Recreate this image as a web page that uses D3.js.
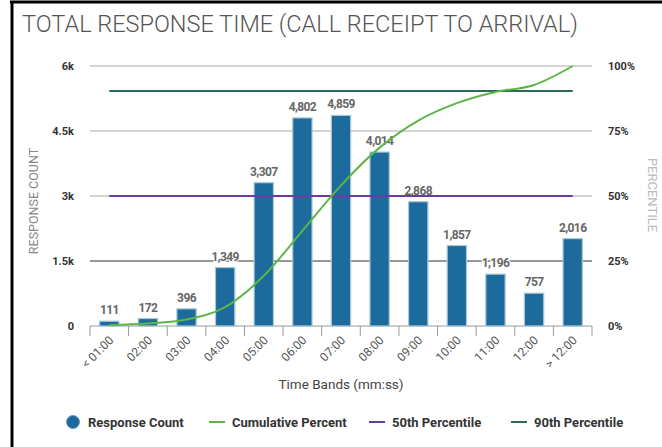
<!DOCTYPE html>
<html>
<head>
<meta charset="utf-8">
<script src="https://cdn.jsdelivr.net/npm/d3@7"></script>
<style>
html,body{margin:0;padding:0;background:#fff;}
svg{display:block;font-family:Roboto, "Noto Sans", sans-serif;}
</style>
</head>
<body>
<svg id="chart" width="662" height="447"></svg>
<script>
const categories = ["< 01:00","02:00","03:00","04:00","05:00","06:00","07:00","08:00","09:00","10:00","11:00","12:00","> 12:00"];
const responseCount = [111,172,396,1349,3307,4802,4859,4014,2868,1857,1196,757,2016];
const cumulativePercent = [0.4,1.0,2.5,7.3,19.3,36.6,54.1,68.6,79.0,85.7,90.0,92.7,100];
const p50 = 50;
const p90 = 90.4;
const leftTicks = [0,1500,3000,4500,6000];
const leftTickLabels = ["0","1.5k","3k","4.5k","6k"];
const rightTicks = [0,25,50,75,100];
const rightTickLabels = ["0%","25%","50%","75%","100%"];

const svg = d3.select("#chart");
const W = 662, H = 447;
const x = d3.scaleBand().domain(categories).range([90, 592]).paddingInner(0.5).paddingOuter(0.25);
const y = d3.scaleLinear().domain([0,6000]).range([326, 66]);
const yr = d3.scaleLinear().domain([0,100]).range([326, 66]);
const cx = d => x(d) + x.bandwidth()/2;

// border
svg.append("line").attr("x1",10).attr("x2",W).attr("y1",2).attr("y2",2).attr("stroke","#000").attr("stroke-width",3);
svg.append("line").attr("x1",12).attr("x2",12).attr("y1",1).attr("y2",H).attr("stroke","#000").attr("stroke-width",3);

// title
svg.append("text").attr("x",22).attr("y",32).attr("font-size",23.5).attr("font-weight",300).attr("fill","#555")
  .text("TOTAL RESPONSE TIME (CALL RECEIPT TO ARRIVAL)");

// gridlines
const grid = svg.append("g");
leftTicks.forEach((t,i)=>{
  grid.append("line").attr("x1",90).attr("x2",592).attr("y1",y(t)).attr("y2",y(t))
    .attr("stroke", t===1500 ? "#333" : (t===0 ? "#999" : "#aaa")).attr("stroke-width",1);
});

// left axis
const yAxis = d3.axisLeft(y).tickValues(leftTicks).tickFormat((d,i)=>leftTickLabels[i]).tickSize(0).tickPadding(16);
const ga = svg.append("g").attr("transform","translate(90,0)").call(yAxis);
ga.select(".domain").remove();
ga.selectAll("text").attr("font-size",11).attr("font-weight",700).attr("fill","#333").attr("font-family","Roboto");

const yrAxis = d3.axisRight(yr).tickValues(rightTicks).tickFormat((d,i)=>rightTickLabels[i]).tickSize(0).tickPadding(16);
const gr = svg.append("g").attr("transform","translate(592,0)").call(yrAxis);
gr.select(".domain").remove();
gr.selectAll("text").attr("font-size",11).attr("font-weight",700).attr("fill","#333").attr("font-family","Roboto");

// x axis ticks
const bounds = categories.map(c => x(c) - x.step()*x.paddingInner()/2);
bounds.push(592);
bounds.forEach(b=>{
  svg.append("line").attr("x1",b).attr("x2",b).attr("y1",326).attr("y2",336).attr("stroke","#999");
});
svg.selectAll(".xl").data(categories).enter().append("text")
  .attr("transform", d => `translate(${cx(d)+5},${341}) rotate(-45)`)
  .attr("text-anchor","end").attr("font-size",12).attr("fill","#555").text(d=>d);

// axis titles
svg.append("text").attr("transform","translate(38,201) rotate(-90)").attr("text-anchor","middle")
  .attr("font-size",12.5).attr("fill","#888").text("RESPONSE COUNT");
svg.append("text").attr("transform","translate(648,195) rotate(90)").attr("text-anchor","middle")
  .attr("font-size",13).attr("fill","#bbb").text("PERCENTILE");
svg.append("text").attr("x",341).attr("y",389).attr("text-anchor","middle").attr("font-size",13.5).attr("fill","#444")
  .text("Time Bands (mm:ss)");

// bars
svg.selectAll(".bar").data(responseCount).enter().append("rect")
  .attr("x",(d,i)=>x(categories[i])).attr("width",x.bandwidth())
  .attr("y",d=>y(d)).attr("height",d=>326-y(d))
  .attr("fill","#1c6b9c").attr("stroke","#a8c8d8").attr("stroke-width",1.2);

// bar labels
svg.selectAll(".bl").data(responseCount).enter().append("text")
  .attr("x",(d,i)=>cx(categories[i])).attr("y",d=>y(d)-7).attr("text-anchor","middle")
  .attr("font-size",12).attr("font-weight",700).attr("fill","#666").attr("letter-spacing",-0.6)
  .attr("stroke","#fff").attr("stroke-width",2).attr("paint-order","stroke")
  .text(d=>d3.format(",")(d));

// percentile lines
const x0 = cx(categories[0]), x1 = cx(categories[categories.length-1]);
svg.append("line").attr("x1",x0).attr("x2",x1).attr("y1",yr(p50)).attr("y2",yr(p50)).attr("stroke","#6f3aa0").attr("stroke-width",2);
svg.append("line").attr("x1",x0).attr("x2",x1).attr("y1",yr(p90)).attr("y2",yr(p90)).attr("stroke","#2c6b55").attr("stroke-width",2);

// cumulative line
const line = d3.line().x((d,i)=>cx(categories[i])).y(d=>yr(d)).curve(d3.curveMonotoneX);
svg.append("path").datum(cumulativePercent).attr("d",line).attr("fill","none").attr("stroke","#5cb646").attr("stroke-width",2);

// legend
const lg = svg.append("g").attr("font-size",13).attr("font-weight",700).attr("fill","#333");
lg.append("circle").attr("cx",73).attr("cy",422).attr("r",6.5).attr("fill","#1c6b9c").attr("stroke","#6d9bbb");
lg.append("text").attr("x",88).attr("y",427).text("Response Count");
const items = [["Cumulative Percent","#5cb646",209],["50th Percentile","#6f3aa0",369],["90th Percentile","#2c6b55",511]];
items.forEach(([t,c,xx])=>{
  lg.append("line").attr("x1",xx).attr("x2",xx+16).attr("y1",422).attr("y2",422).attr("stroke",c).attr("stroke-width",2);
  lg.append("text").attr("x",xx+23).attr("y",427).text(t);
});
</script>
</body>
</html>
